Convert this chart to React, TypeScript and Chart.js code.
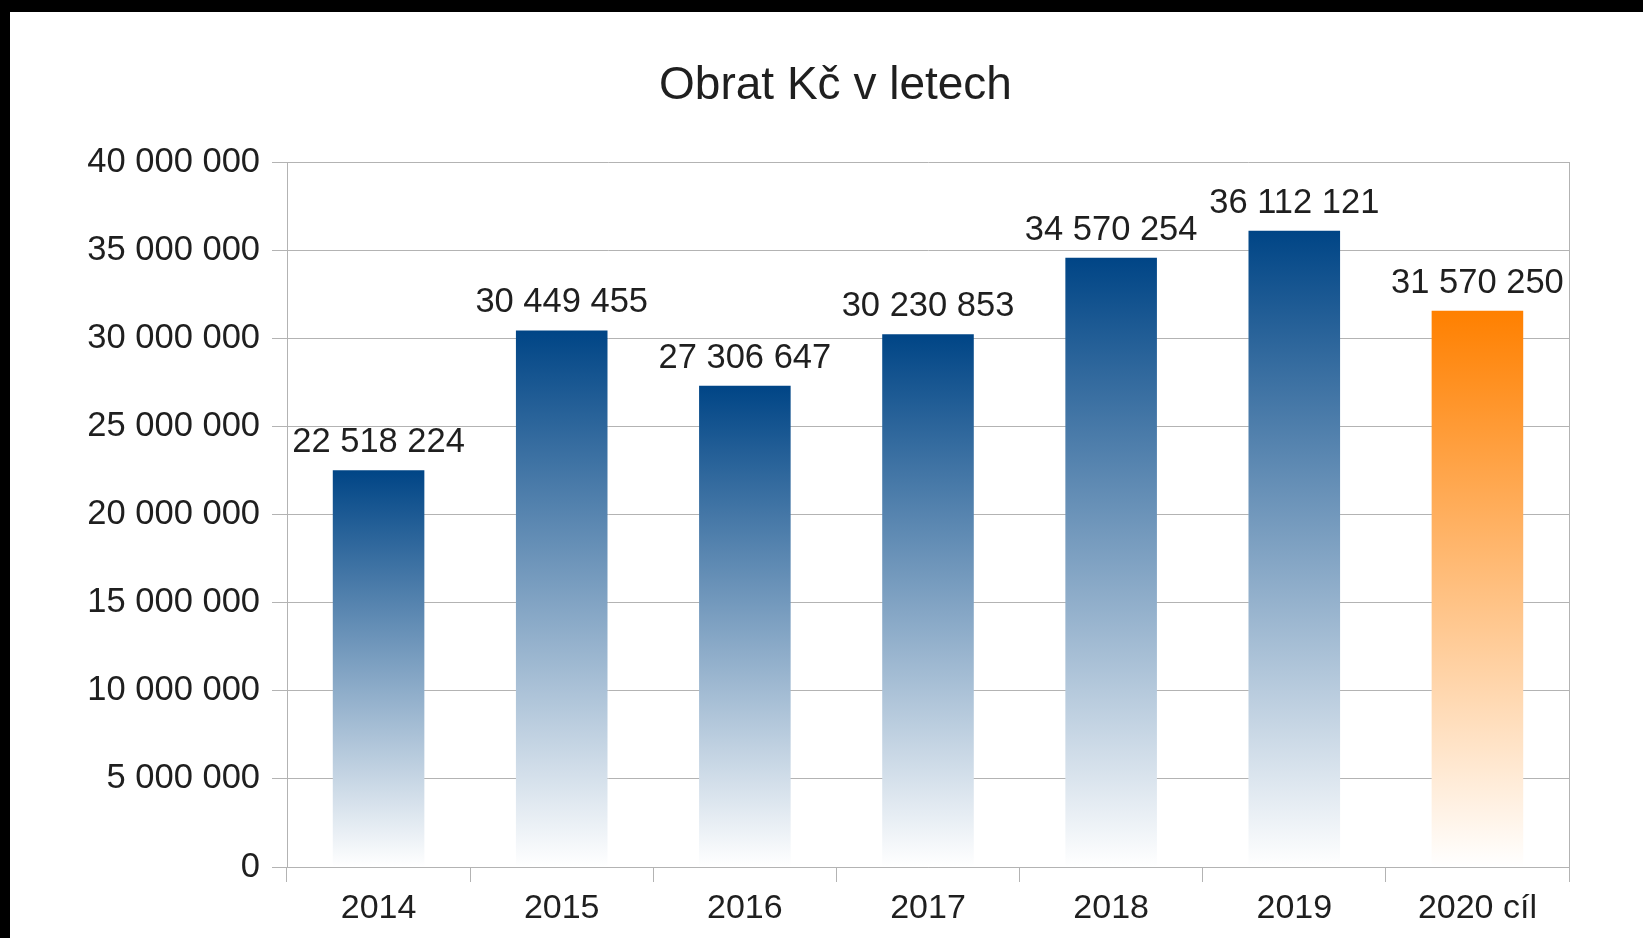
import React, { useEffect, useRef } from "react";
import { Chart, registerables } from "chart.js";

Chart.register(...registerables);

const categories = ["2014", "2015", "2016", "2017", "2018", "2019", "2020 cíl"];
const turnover = [22518224, 30449455, 27306647, 30230853, 34570254, 36112121, 31570250];
const topColors = ["#004586", "#004586", "#004586", "#004586", "#004586", "#004586", "#ff8000"];
const yTicksMax = 40000000;
const yTickStep = 5000000;
const chartTitle = "Obrat Kč v letech";

const FONT = "'Liberation Sans', Arial, sans-serif";
const GRID = "#b3b3b3";
const TEXT = "#1f1f1f";

function fmt(v: number): string {
  const s = Math.round(v).toString();
  return s.replace(/\B(?=(\d{3})+(?!\d))/g, " ");
}

const valueLabels = {
  id: "valueLabels",
  afterDatasetsDraw(chart: any) {
    const ctx = chart.ctx;
    const meta = chart.getDatasetMeta(0);
    ctx.save();
    ctx.font = `34.5px ${FONT}`;
    ctx.fillStyle = TEXT;
    ctx.textAlign = "center";
    ctx.textBaseline = "alphabetic";
    meta.data.forEach((el: any, i: number) => {
      ctx.fillText(fmt(turnover[i]), el.x, el.y - 18);
    });
    ctx.restore();
  },
};

export default function App() {
  const ref = useRef<HTMLCanvasElement | null>(null);

  useEffect(() => {
    if (!ref.current) return;
    const chart = new Chart(ref.current, {
      type: "bar",
      data: {
        labels: categories,
        datasets: [
          {
            data: turnover,
            barPercentage: 0.5,
            categoryPercentage: 1,
            borderWidth: 0,
            backgroundColor: (c: any) => {
              const idx = c.dataIndex ?? 0;
              const top = topColors[idx] || topColors[0];
              const chart = c.chart;
              if (c.type !== "data" || !chart.chartArea || !chart.scales.y) return top;
              const y = chart.scales.y;
              const yTop = y.getPixelForValue(turnover[idx]);
              const yBot = y.getPixelForValue(0);
              if (!isFinite(yTop) || !isFinite(yBot) || yTop === yBot) return top;
              const g = chart.ctx.createLinearGradient(0, yTop, 0, yBot);
              g.addColorStop(0, top);
              g.addColorStop(1, "#ffffff");
              return g;
            },
          },
        ],
      },
      options: {
        animation: false,
        responsive: false,
        devicePixelRatio: 1,
        layout: { padding: { left: 18, right: 0, top: 0, bottom: 0 } },
        plugins: {
          legend: { display: false },
          tooltip: { enabled: false },
          title: {
            display: true,
            text: chartTitle,
            color: TEXT,
            font: { family: FONT, size: 46, weight: "normal", lineHeight: 1.2 },
            padding: { top: 47, bottom: 48 },
          },
        },
        scales: {
          x: {
            grid: {
              offset: true,
              drawOnChartArea: false,
              color: GRID,
              tickColor: GRID,
              tickLength: 15,
            },
            border: { display: true, color: GRID },
            ticks: {
              color: TEXT,
              padding: 6,
              font: { family: FONT, size: 34 },
              maxRotation: 0,
              autoSkip: false,
            },
            afterFit: (s: any) => {
              s.height = 71;
            },
          },
          y: {
            min: 0,
            max: yTicksMax,
            ticks: {
              stepSize: yTickStep,
              color: TEXT,
              padding: 12,
              font: { family: FONT, size: 34.5 },
              callback: (v: any) => fmt(Number(v)),
            },
            grid: { color: GRID, tickColor: GRID, tickLength: 15 },
            border: { display: true, color: GRID },
            afterFit: (s: any) => {
              s.width = 259;
            },
          },
          y2: {
            position: "right",
            display: true,
            min: 0,
            max: yTicksMax,
            ticks: { display: false },
            grid: { display: false, drawTicks: false },
            border: { display: true, color: GRID },
            afterFit: (s: any) => {
              s.width = 74;
            },
          },
        },
      },
      plugins: [valueLabels],
    } as any);
    return () => chart.destroy();
  }, []);

  return (
    <div
      style={{
        position: "absolute",
        left: 0,
        top: 0,
        width: 1643,
        height: 938,
        background: "#000",
        overflow: "hidden",
      }}
    >
      <div
        style={{
          position: "absolute",
          left: 10,
          top: 12,
          width: 1633,
          height: 926,
          background: "#fff",
        }}
      >
        <canvas ref={ref} width={1633} height={926} style={{ display: "block" }} />
      </div>
    </div>
  );
}
